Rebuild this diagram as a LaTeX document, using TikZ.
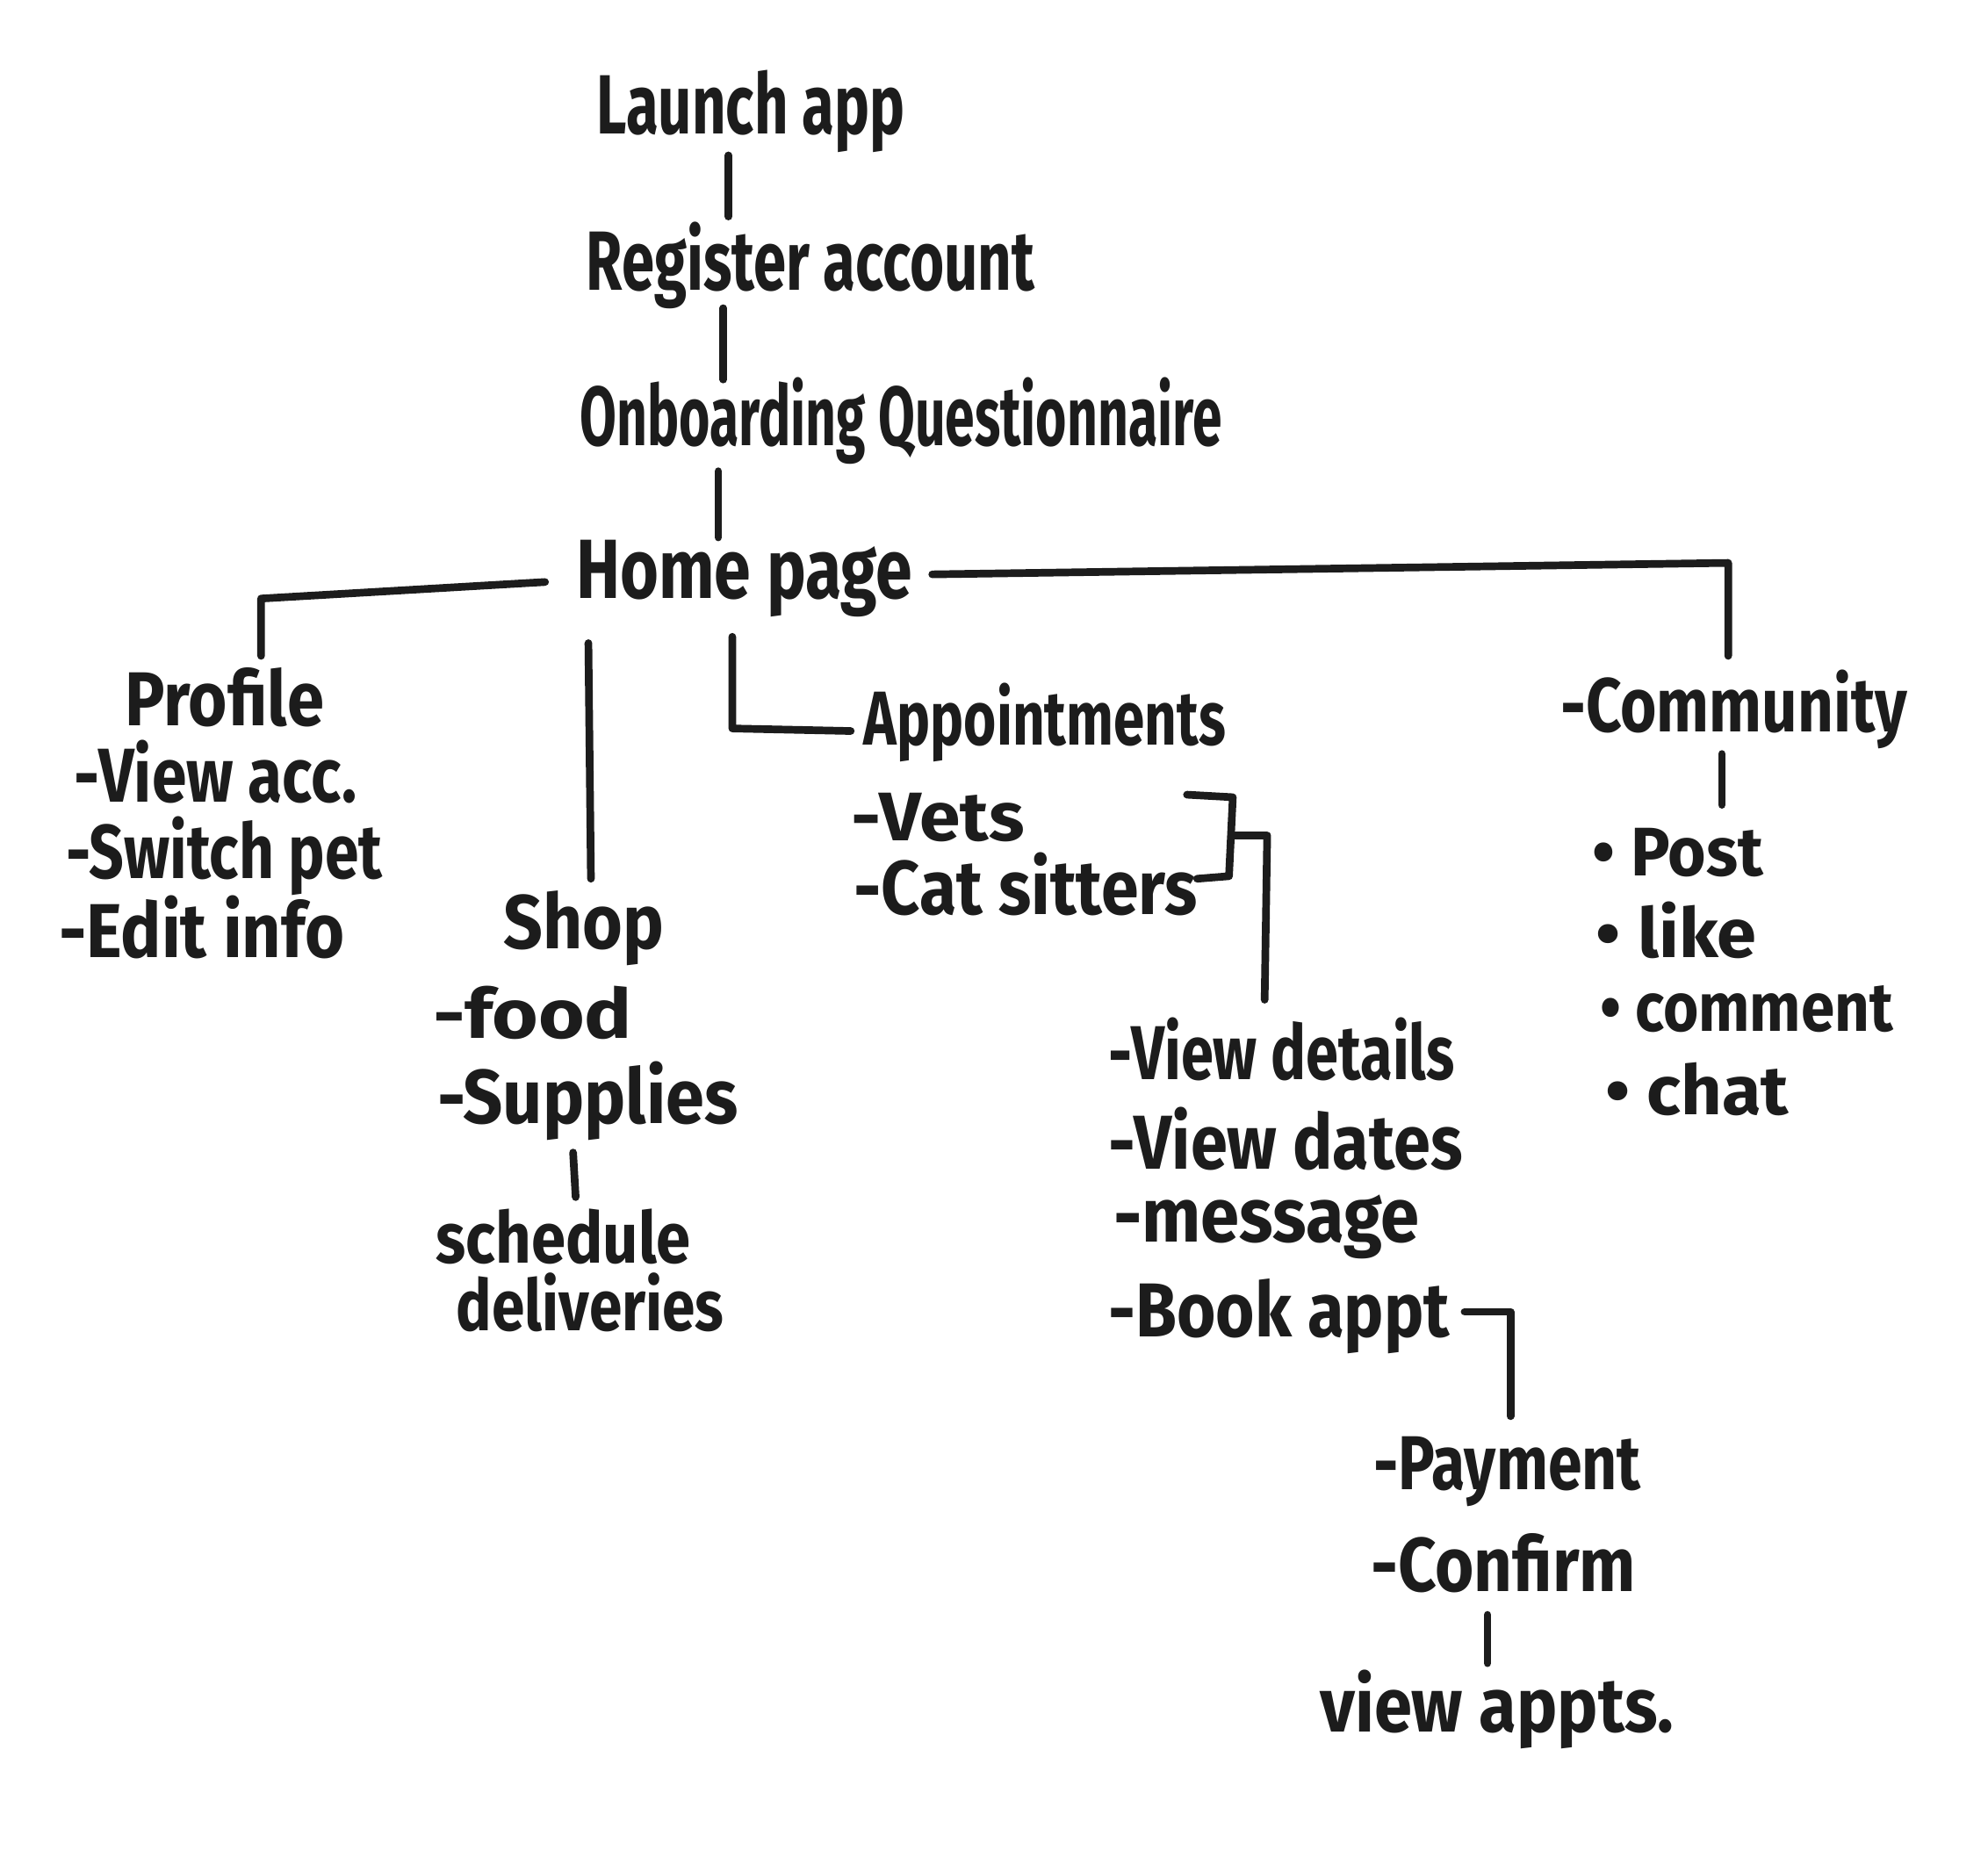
\documentclass[tikz,border=0pt]{standalone}
\usepackage{fontspec}
\setmainfont{Fira Sans}
\usepackage{graphicx}
\definecolor{ink}{HTML}{1C1C1C}
\newcommand{\hw}[2]{\resizebox{#1pt}{\height}{#2}}
\begin{document}
\begin{tikzpicture}[x=0.5pt,y=-0.5pt,
  txt/.style={anchor=base west, inner sep=0pt, text=ink, font=\fontsize{30}{32}\selectfont\bfseries},
  big/.style={txt, font=\fontsize{33}{35}\selectfont\bfseries},
  small/.style={txt, font=\fontsize{27}{29}\selectfont\bfseries},
  conn/.style={line width=3pt, draw=ink, line cap=round, line join=round}]
\useasboundingbox[fill=white] (0,0) rectangle (1561,1464);
% main chain
\node[big] (launch) at (468,105) {\hw{121}{Launch app}};
\node[big] (register) at (460,228) {\hw{176}{Register account}};
\node[big] (onboard) at (455,350) {\hw{252}{Onboarding Questionnaire}};
\node[big] (home) at (452,470) {\hw{132}{Home page}};
% profile
\node[txt] (profile) at (98,570) {\hw{78}{Profile}};
\node[txt] (viewacc) at (58,630) {\hw{111}{-View acc.}};
\node[txt] (switch) at (52,690) {\hw{124}{-Switch pet}};
\node[txt] (edit) at (46,752) {\hw{112}{-Edit info}};
% shop
\node[txt] (shop) at (395,745) {\hw{63}{Shop}};
\node[small] (food) at (340,815) {\hw{78}{-food}};
\node[txt] (supplies) at (343,882) {\hw{118}{-Supplies}};
\node[txt, align=left, font=\fontsize{28}{26.5}\selectfont\bfseries] (schedule) at (342,1045)
  {\hw{100}{schedule}\\\hspace*{8pt}\hw{105}{deliveries}};
% appointments
\node[txt] (appts) at (678,585) {\hw{142}{Appointments}};
\node[small] (vets) at (668,660) {\hw{68}{-Vets}};
\node[txt] (sitters) at (670,718) {\hw{135}{-Cat sitters}};
\node[txt] (details) at (870,848) {\hw{136}{-View details}};
\node[txt] (dates) at (870,918) {\hw{139}{-View dates}};
\node[txt] (message) at (874,975) {\hw{120}{-message}};
\node[txt] (book) at (870,1050) {\hw{134}{-Book appt}};
\node[txt] (payment) at (1078,1170) {\hw{105}{-Payment}};
\node[txt] (confirm) at (1076,1250) {\hw{104}{-Confirm}};
\node[txt] (viewappts) at (1036,1360) {\hw{139}{view appts.}};
% community
\node[txt] (community) at (1225,575) {\hw{136}{-Community}};
\node[small] (post) at (1250,688) {\hw{67}{• Post}};
\node[small] (like) at (1253,752) {\hw{63}{• like}};
\node[small] (comment) at (1256,810) {\hw{115}{• comment}};
\node[small] (chat) at (1260,875) {\hw{72}{• chat}};
% connector coordinates
\coordinate (l1a) at (572,122); \coordinate (l1b) at (572,170);
\coordinate (l2a) at (568,242); \coordinate (l2b) at (568,298);
\coordinate (l3a) at (564,370); \coordinate (l3b) at (564,422);
\coordinate (pa) at (428,457); \coordinate (pb) at (205,470); \coordinate (pc) at (205,515);
\coordinate (ca) at (732,451); \coordinate (cb) at (1357,442); \coordinate (cc) at (1357,515);
\coordinate (sa) at (462,505); \coordinate (sb) at (464,690);
\coordinate (aa) at (575,500); \coordinate (ab) at (575,572); \coordinate (ac) at (668,574);
\coordinate (ba) at (932,624); \coordinate (bb) at (968,626); \coordinate (bc) at (965,688); \coordinate (bd) at (940,690);
\coordinate (be) at (967,656); \coordinate (bf) at (995,656); \coordinate (bg) at (993,785);
\coordinate (da) at (450,905); \coordinate (db) at (452,940);
\coordinate (ma) at (1352,592); \coordinate (mb) at (1352,632);
\coordinate (ka) at (1150,1030); \coordinate (kb) at (1186,1030); \coordinate (kc) at (1186,1112);
\coordinate (fa) at (1168,1268); \coordinate (fb) at (1168,1306);
% connectors
\draw[conn] (l1a) -- (l1b);
\draw[conn] (l2a) -- (l2b);
\draw[conn] (l3a) -- (l3b);
\draw[conn] (pa) -- (pb) -- (pc);
\draw[conn] (ca) -- (cb) -- (cc);
\draw[conn] (sa) -- (sb);
\draw[conn] (aa) -- (ab) -- (ac);
\draw[conn] (ba) -- (bb) -- (bc) -- (bd);
\draw[conn] (be) -- (bf) -- (bg);
\draw[conn] (da) -- (db);
\draw[conn] (ma) -- (mb);
\draw[conn] (ka) -- (kb) -- (kc);
\draw[conn] (fa) -- (fb);
\end{tikzpicture}
\end{document}
